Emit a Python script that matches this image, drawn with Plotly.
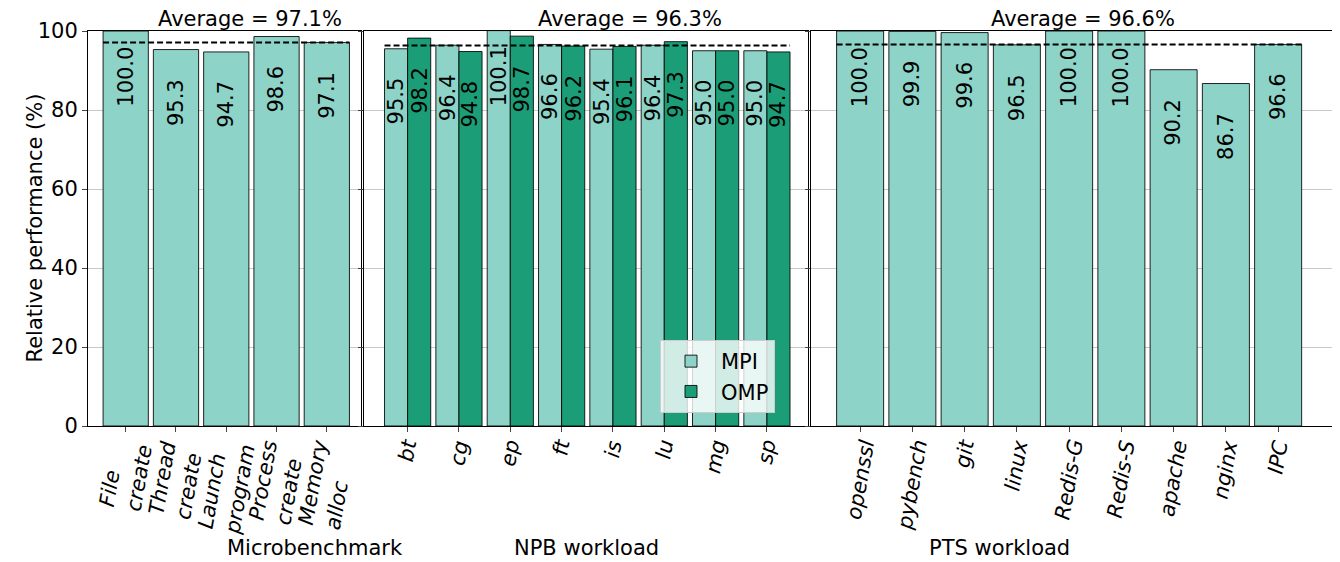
import plotly.graph_objects as go

# values
micro_labels = ["File<br>create", "Thread<br>create", "Launch<br>program", "Process<br>create", "Memory<br>alloc"]
micro_vals = [100.0, 95.3, 94.7, 98.6, 97.1]

npb_labels = ["bt", "cg", "ep", "ft", "is", "lu", "mg", "sp"]
npb_mpi = [95.5, 96.4, 100.1, 96.6, 95.4, 96.4, 95.0, 95.0]
npb_omp = [98.2, 94.8, 98.7, 96.2, 96.1, 97.3, 95.0, 94.7]

pts_labels = ["openssl", "pybench", "git", "linux", "Redis-G", "Redis-S", "apache", "nginx", "IPC"]
pts_vals = [100.0, 99.9, 99.6, 96.5, 100.0, 100.0, 90.2, 86.7, 96.6]

group_titles = ["Microbenchmark", "NPB workload", "PTS workload"]
averages = [97.1, 96.3, 96.6]

LIGHT = "#8dd3c7"
DARK = "#1b9e77"
FONT = "DejaVu Sans"
EDGE = dict(color="rgba(0,0,0,0.85)", width=1)

# the page body has an 8px margin, so the figure is drawn 8px smaller and
# all target pixel positions (screenshot coords) are shifted by -8
OFF = 8
W, H = 1340 - OFF, 562 - OFF
L, R, T, B = 88 - OFF, 1333 - OFF, 31 - OFF, 426 - OFF
PW, PH = R - L, B - T
panels_px = [(88, 361), (364, 808), (811, 1333)]
domains = [[(a - OFF - L) / PW, (b - OFF - L) / PW] for a, b in panels_px]
xranges = [[-0.75, 4.68], [-0.85, 7.8], [-0.94, 9.05]]
title_x = [2.48, 4.33, 4.27]

fig = go.Figure()
fig.add_bar(x=list(range(len(micro_vals))), y=micro_vals, width=0.9, marker=dict(color=LIGHT, line=EDGE),
            xaxis="x", yaxis="y", showlegend=False)
fig.add_bar(x=list(range(len(npb_mpi))), y=npb_mpi, width=0.45, offset=-0.45, name="MPI",
            marker=dict(color=LIGHT, line=EDGE), xaxis="x2", yaxis="y2")
fig.add_bar(x=list(range(len(npb_omp))), y=npb_omp, width=0.45, offset=0.0, name="OMP",
            marker=dict(color=DARK, line=EDGE), xaxis="x2", yaxis="y2")
fig.add_bar(x=list(range(len(pts_vals))), y=pts_vals, width=0.9, marker=dict(color=LIGHT, line=EDGE),
            xaxis="x3", yaxis="y3", showlegend=False)

ann = []
def val_label(xref, yref, x, v):
    ann.append(dict(x=x, y=v - 19.5, xref=xref, yref=yref, text=f"{v:.1f}", textangle=-90, borderpad=0,
                    showarrow=False, xanchor="center", yanchor="bottom", font=dict(size=21, color="black")))

for i, v in enumerate(micro_vals):
    val_label("x", "y", i, v)
for i, (a, b) in enumerate(zip(npb_mpi, npb_omp)):
    val_label("x2", "y2", i - 0.225, a)
    val_label("x2", "y2", i + 0.225, b)
for i, v in enumerate(pts_vals):
    val_label("x3", "y3", i, v)

tick_sets = [micro_labels, npb_labels, pts_labels]
counts = [len(micro_vals), len(npb_mpi), len(pts_vals)]
shapes = []
for k, (avg, n) in enumerate(zip(averages, counts)):
    xr = "x" if k == 0 else f"x{k + 1}"
    yr = "y" if k == 0 else f"y{k + 1}"
    shapes.append(dict(type="line", xref=xr, yref=yr, x0=-0.45, x1=n - 0.55, y0=avg, y1=avg,
                       line=dict(color="black", width=2, dash="6px,3px")))
    ann.append(dict(x=title_x[k], y=1, xref=xr, yref="paper", yanchor="bottom", yshift=-1, borderpad=0,
                    text=f"Average = {avg:.1f}%", showarrow=False, font=dict(size=21)))
    ann.append(dict(x=sum(domains[k]) / 2, y=(426 - 548) / PH, xref="paper", yref="paper",
                    yanchor="middle", text=group_titles[k], showarrow=False, font=dict(size=21)))
    # rotated category labels, left-aligned lines like the reference
    for i, lab in enumerate(tick_sets[k]):
        ann.append(dict(x=i, y=0, xref=xr, yref=yr, text=lab, textangle=-80, align="left",
                        xanchor="center", yanchor="top", yshift=-11, borderpad=0, showarrow=False,
                        font=dict(size=21, style="italic")))

ann.append(dict(x=(20 - 88) / PW, y=0.5, xref="paper", yref="paper", textangle=-90,
                text="Relative performance (%)", showarrow=False, font=dict(size=21)))

layout = dict(
    width=W, height=H, margin=dict(l=L, r=W - R, t=T, b=H - B, autoexpand=False),
    plot_bgcolor="white", paper_bgcolor="white", barmode="overlay",
    font=dict(family=FONT, size=21, color="black"),
    annotations=ann, shapes=shapes,
    legend=dict(x=(660 - 88) / PW, y=(426 - 413) / PH, xanchor="left", yanchor="bottom",
                bgcolor="rgba(255,255,255,0.8)", bordercolor="#cccccc", borderwidth=1,
                font=dict(size=21), itemwidth=50),
)
for k in range(3):
    sfx = "" if k == 0 else str(k + 1)
    n = counts[k]
    layout["xaxis" + sfx] = dict(domain=domains[k], range=xranges[k], anchor="y" + sfx, automargin=False,
                                 tickvals=list(range(n)), showticklabels=False, ticks="outside", ticklen=5,
                                 showline=True, mirror=True, linecolor="black", linewidth=1,
                                 showgrid=False, zeroline=False)
    layout["yaxis" + sfx] = dict(range=[0, 100], dtick=20, anchor="x" + sfx, ticks="outside", ticklen=5,
                                 automargin=False, showticklabels=(k == 0), tickfont=dict(size=21),
                                 showline=True, mirror=True, linecolor="black", linewidth=1,
                                 showgrid=True, gridcolor="#c8c8c8", gridwidth=1, zeroline=False)
    if k > 0:
        layout["yaxis" + sfx]["matches"] = "y"

fig.update_layout(**layout)
fig.write_html("out.html")
